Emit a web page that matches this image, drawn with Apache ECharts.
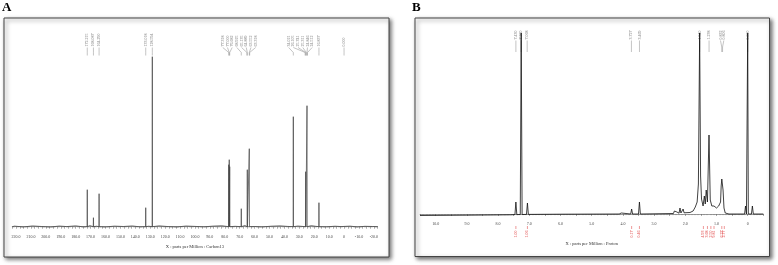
<!DOCTYPE html>
<html><head><meta charset="utf-8">
<script src="https://cdn.jsdelivr.net/npm/echarts@6/dist/echarts.min.js"></script>
<style>html,body{margin:0;padding:0;background:#fff}#c{width:778px;height:265px}</style>
</head><body><div id="c"></div>
<script>
// ---------- Carbon-13 spectrum (panel A) ----------
const carbonPeakPpm    = [172.215, 168.087, 164.290, 133.018, 128.594, 77.318, 77.000, 76.682, 68.925, 64.889, 63.552, 34.021, 25.741, 24.846, 16.837];
const carbonPeakHeight = [37, 9, 33, 19, 170, 62, 67, 60, 18, 57, 78, 110, 55, 121, 24];
// baseline noise (ppm, height)
const carbonNoisePpm = [221, 215, 209, 203, 197, 191, 186, 180, 175, 170.5, 166, 160, 154, 148, 142, 137, 131, 124, 118, 112, 106, 100, 94, 88, 82, 73, 66.5, 60, 55, 49, 43, 38, 31, 22, 19, 12, 6, 2, -4, -9, -14, -19];
const carbonNoiseVal = [0.6, -0.3, 0.8, 0.2, -0.4, 0.7, 0.1, 0.9, -0.2, 1.2, 0.5, -0.3, 0.6, 0.2, 0.8, -0.2, 0.5, 0.9, 0.1, -0.3, 0.7, 0.3, -0.2, 0.6, 1.0, 0.4, 1.3, 0.2, -0.3, 0.5, 0.9, 0.3, 0.7, 1.1, 0.4, -0.2, 0.5, 0.1, 0.6, -0.3, 0.4, 0.2];
const carbonLabels = [172.215, 168.087, 164.290, 133.018, 128.594, 77.318, 77.000, 76.682, 68.925, 65.135, 64.889, 63.552, 63.318, 34.021, 26.105, 25.741, 25.311, 24.846, 24.512, 16.837, 0.000];

// ---------- Proton spectrum (panel B) ----------
const protonPpm = [10.5, 9.0, 7.6, 7.46, 7.43, 7.40, 7.29, 7.26, 7.23, 7.09, 7.06, 7.03, 6.0, 4.12, 4.10, 4.05, 4.0, 3.75, 3.72, 3.69, 3.50, 3.47, 3.44, 2.38, 2.35, 2.32, 2.30, 2.27, 2.24, 2.20, 2.17, 2.14, 2.10, 2.07, 2.04, 1.85, 1.75, 1.68, 1.62, 1.58, 1.54, 1.51, 1.48, 1.43, 1.39, 1.36, 1.33, 1.29, 1.24, 1.20, 1.15, 1.08, 1.05, 1.00, 0.93, 0.87, 0.85, 0.83, 0.81, 0.79, 0.76, 0.72, 0.60, 0.10, 0.07, 0.04, 0.02, 0.00, -0.02, -0.12, -0.15, -0.18, -0.5];
const protonInt = [-1.5, -1.2, -0.8, -0.6, 12, -0.6, -0.5, 181, -0.5, -0.4, 11, -0.4, -0.2, 0, 1.5, 1, 0, 0, 5, 0, 0, 12, 0, 0.5, 3, 2, 3, 2, 0.8, 0.8, 6, 1, 1, 5, 1.2, 1.5, 3, 7, 12, 30, 181, 38, 15, 8, 18, 10, 24, 12, 79, 14, 8, 8, 9, 6, 8, 12, 28, 35, 33, 24, 6, 1, 0, 0, 8, 0, 0, 181, 0, 0, 8, 0, 0];
const protonLabels = [7.430, 7.260, 7.068, 3.727, 3.469, 1.540, 1.238, 0.832, 0.806, 0.000];
const integralPpm  = [7.43, 7.06, 3.72, 3.47, 1.42, 1.29, 1.18, 1.08, 0.83, 0.75];
const integralText = ["1.00", "1.06", "0.17", "0.46", "4.93", "3.68", "2.50", "9.81", "6.27", "2.77"];

// ---------- axis tick labels ----------
const carbonTickLabels = [220, 210, 200, 190, 180, 170, 160, 150, 140, 130, 120, 110, 100, 90, 80, 70, 60, 50, 40, 30, 20, 10, 0, -10, -20];
const protonTickLabels = [10, 9, 8, 7, 6, 5, 4, 3, 2, 1, 0];

const SERIF = "'Liberation Serif','DejaVu Serif',serif";

// build carbon line from peak list (narrow spikes) plus baseline noise points
const carbonLine = [[222.5, 0], [-22.5, 0]];
carbonNoisePpm.forEach((p, i) => carbonLine.push([p, carbonNoiseVal[i]]));
carbonPeakPpm.forEach((p, i) => {
  carbonLine.push([p + 0.12, 0], [p, carbonPeakHeight[i]], [p - 0.12, 0]);
});
carbonLine.sort((a, b) => b[0] - a[0]);

const protonLine = protonPpm.map((p, i) => [p, protonInt[i]]);

function spread(xs, gap) {
  let cl = xs.map(x => ({lo: x, hi: x, n: 1}));
  const startOf = c => (c.lo + c.hi) / 2 - (c.n - 1) * gap / 2;
  let merged = true;
  while (merged) {
    merged = false;
    for (let k = 0; k < cl.length - 1; k++) {
      const a = cl[k], b = cl[k + 1];
      if (startOf(b) < startOf(a) + a.n * gap - 1e-6) {
        cl.splice(k, 2, {lo: a.lo, hi: b.hi, n: a.n + b.n});
        merged = true; break;
      }
    }
  }
  const out = [];
  cl.forEach(c => { const s = startOf(c); for (let j = 0; j < c.n; j++) out.push(s + j * gap); });
  return out;
}

function peakLabelRender(labels, gap, textBottom, lineTop, bend, lineBottom) {
  return function (params, api) {
    const xs = labels.map(v => api.coord([v, 0])[0]);
    const pos = spread(xs, gap);
    const children = [];
    labels.forEach((v, i) => {
      children.push({type: 'text', x: pos[i], y: textBottom, rotation: Math.PI / 2,
        style: {text: v.toFixed(3), fontSize: 4, fontFamily: SERIF, fill: '#777', align: 'left', verticalAlign: 'middle'}});
      children.push({type: 'polyline', shape: {points: [[pos[i], lineTop], [xs[i], bend], [xs[i], lineBottom]]},
        style: {stroke: '#888', lineWidth: 0.5, fill: null}});
    });
    return {type: 'group', children};
  };
}

function integralRender(params, api) {
  const children = [];
  integralPpm.forEach((p, i) => {
    const x = api.coord([p, 0])[0];
    children.push({type: 'line', shape: {x1: x, y1: 226, x2: x, y2: 229}, style: {stroke: '#d33', lineWidth: 0.5}});
    children.push({type: 'text', x: x, y: 230.5, rotation: Math.PI / 2,
      style: {text: integralText[i], fontSize: 4, fontFamily: SERIF, fill: '#d33', align: 'right', verticalAlign: 'middle'}});
  });
  return {type: 'group', children};
}

function tickFormatter(list) {
  return function (v) {
    const hit = list.find(t => Math.abs(t - v) < 1e-6);
    if (hit === undefined) return '';
    return hit === 0 ? '0' : hit.toFixed(1);
  };
}

const chart = echarts.init(document.getElementById('c'), null, {renderer: 'canvas'});
chart.setOption({
  animation: false,
  grid: [
    {left: 12.3, width: 365.3, top: 26, height: 202},
    {left: 420.1, width: 343.2, top: 26, height: 192.3}
  ],
  xAxis: [
    {gridIndex: 0, type: 'value', inverse: true, min: -22.5, max: 222.5, interval: 2.5,
      axisLine: {lineStyle: {color: '#555', width: 0.6}},
      axisTick: {length: 2, lineStyle: {color: '#555', width: 0.5}},
      minorTick: {show: true, splitNumber: 2, length: 1.2, lineStyle: {color: '#777', width: 0.4}},
      axisLabel: {formatter: tickFormatter(carbonTickLabels), fontSize: 4, color: '#444', margin: 7, fontFamily: SERIF},
      splitLine: {show: false},
      name: 'X : parts per Million : Carbon13', nameLocation: 'middle', nameGap: 12,
      nameTextStyle: {fontSize: 4.5, color: '#333', fontFamily: SERIF}},
    {gridIndex: 1, type: 'value', inverse: true, min: -0.5, max: 10.5, interval: 0.5,
      axisLine: {lineStyle: {color: '#555', width: 0.6}},
      axisTick: {length: 2, lineStyle: {color: '#555', width: 0.5}},
      minorTick: {show: true, splitNumber: 5, length: 1.2, lineStyle: {color: '#666', width: 0.4}},
      axisLabel: {formatter: tickFormatter(protonTickLabels), fontSize: 4, color: '#444', margin: 4, fontFamily: SERIF},
      splitLine: {show: false},
      name: 'X : parts per Million : Proton', nameLocation: 'middle', nameGap: 23.5,
      nameTextStyle: {fontSize: 4.5, color: '#333', fontFamily: SERIF}}
  ],
  yAxis: [
    {gridIndex: 0, type: 'value', min: -1.3, max: 200.7, show: false},
    {gridIndex: 1, type: 'value', min: -4.3, max: 188, show: false}
  ],
  series: [
    {type: 'line', xAxisIndex: 0, yAxisIndex: 0, data: carbonLine, showSymbol: false, silent: true,
      lineStyle: {color: '#444', width: 0.7}},
    {type: 'line', xAxisIndex: 1, yAxisIndex: 1, data: protonLine, showSymbol: false, silent: true,
      lineStyle: {color: '#111', width: 0.8}},
    {type: 'custom', xAxisIndex: 0, yAxisIndex: 0, data: [[0, 0]], silent: true, clip: false,
      renderItem: peakLabelRender(carbonLabels, 4.7, 46.5, 47.5, 52.5, 55.5)},
    {type: 'custom', xAxisIndex: 1, yAxisIndex: 1, data: [[0, 0]], silent: true, clip: false,
      renderItem: peakLabelRender(protonLabels, 3.3, 39.5, 40.5, 47, 52)},
    {type: 'custom', xAxisIndex: 1, yAxisIndex: 1, data: [[0, 0]], silent: true, clip: false,
      renderItem: integralRender}
  ],
  graphic: [
    {type: 'rect', z: -10, shape: {x: 4, y: 18, width: 385, height: 239},
      style: {fill: '#fff', stroke: '#444', lineWidth: 1, shadowBlur: 4, shadowOffsetX: 2, shadowOffsetY: 2, shadowColor: 'rgba(0,0,0,0.55)'}},
    {type: 'rect', z: -10, shape: {x: 415, y: 18, width: 354.5, height: 238.5},
      style: {fill: '#fff', stroke: '#444', lineWidth: 1, shadowBlur: 4, shadowOffsetX: 2, shadowOffsetY: 2, shadowColor: 'rgba(0,0,0,0.55)'}},
    {type: 'text', x: 2, y: 1, style: {text: 'A', fontSize: 13, fontWeight: 'bold', fontFamily: SERIF, fill: '#000'}},
    {type: 'text', x: 412, y: 1, style: {text: 'B', fontSize: 13, fontWeight: 'bold', fontFamily: SERIF, fill: '#000'}}
  ]
});
</script></body></html>
